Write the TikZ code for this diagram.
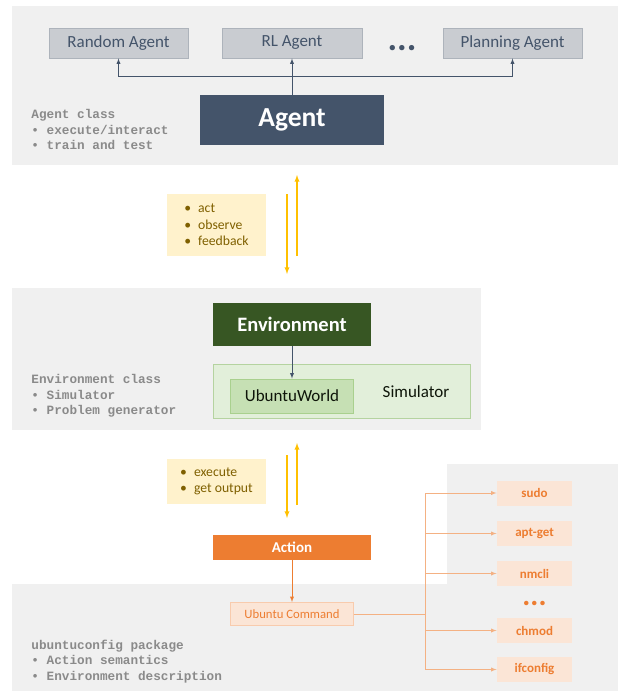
\documentclass[tikz,border=0pt]{standalone}
\usepackage{fontspec}
\setmainfont{Carlito}
\setmonofont{Liberation Mono}
\usepackage{tikz}
\usetikzlibrary{positioning,arrows,calc}

\definecolor{panelgrey}{HTML}{F0F0F0}
\definecolor{agentblue}{HTML}{44546A}
\definecolor{agentgrey}{HTML}{C9CCD1}
\definecolor{agentline}{HTML}{ADB3BB}
\definecolor{notefill}{HTML}{FFF2CC}
\definecolor{notetext}{HTML}{7F6000}
\definecolor{flowyellow}{HTML}{FFC000}
\definecolor{envgreen}{HTML}{375623}
\definecolor{simfill}{HTML}{E2EFDA}
\definecolor{simline}{HTML}{B5D3A0}
\definecolor{worldfill}{HTML}{C6E0B4}
\definecolor{worldline}{HTML}{A9D08E}
\definecolor{actorange}{HTML}{ED7D31}
\definecolor{cmdfill}{HTML}{FBE5D6}
\definecolor{cmdline}{HTML}{F8CBAD}
\definecolor{fanorange}{HTML}{F4B183}
\definecolor{codegrey}{HTML}{8A8A8A}

\begin{document}
\begin{tikzpicture}[x=1pt, y=-1pt, >=latex, line width=0.9pt]
			\tikzstyle{subagent}=[draw=agentline,fill=agentgrey,text=agentblue,inner sep=0pt,
			minimum height=30,font=\fontsize{17}{20}\selectfont]
			\tikzstyle{mainbox}=[inner sep=0pt,text=white]
			\tikzstyle{note}=[fill=notefill,text=notetext,align=left,inner sep=0pt,
			minimum width=99,font=\fontsize{13.7}{16.5}\selectfont]
			\tikzstyle{classtext}=[anchor=west,inner sep=0pt,align=left,text=codegrey,
			font=\ttfamily\bfseries\fontsize{12.7}{15.5}\selectfont]
			\tikzstyle{cmd}=[fill=cmdfill,text=actorange,inner sep=0pt,minimum width=75,
			minimum height=25,font=\bfseries\fontsize{13}{15}\selectfont]
			\tikzstyle{link}=[->,agentblue]
			\tikzstyle{flow}=[->,flowyellow,line width=1.3pt]
			\tikzstyle{fan}=[->,fanorange]

			\useasboundingbox (0,0) rectangle (618,691);

			% panels
			\fill[panelgrey] (12,6) rectangle (618,165);
			\fill[panelgrey] (12,288) rectangle (481,430);
			\fill[panelgrey] (12,584) -- (447,584) -- (447,464) -- (618,464)
			-- (618,691) -- (12,691) -- cycle;

			% agents
			\begin{scope}
				\node[subagent,minimum width=139] (random) at (118.5,43) {Random Agent};
				\node[subagent,minimum width=140] (rl) at (292,43) {RL Agent};
				\node[subagent,minimum width=139] (plan) at (512.5,43) {Planning Agent};
				\node[text=agentblue,inner sep=0pt,font=\bfseries\fontsize{36}{36}\selectfont]
				(moreagents) at (402,48) {...};
				\node[mainbox,fill=agentblue,minimum width=184,minimum height=50,
				font=\bfseries\fontsize{27.5}{30}\selectfont] (agent) at (292,120) {Agent};
				\node[classtext] (agentcls) at (31,129.5)
				{Agent class\\\textbullet{} execute/interact\\\textbullet{} train and test};

				\coordinate (split) at (292,76);
				\draw[link] (agent.north) -- (rl.south);
				\draw[link] (split) -| (random.south);
				\draw[link] (split) -| (plan.south);
			\end{scope}

			% agent <-> environment
			\node[note,minimum height=62] (interact) at (216.5,225)
			{\textbullet\hspace{7pt}act\\\textbullet\hspace{7pt}observe\\\textbullet\hspace{7pt}feedback};
			\coordinate (down1) at (287,194); \coordinate (down2) at (287,274);
			\coordinate (up1) at (297,256); \coordinate (up2) at (297,175);
			\draw[flow] (down1) -- (down2);
			\draw[flow] (up1) -- (up2);

			% environment
			\begin{scope}
				\node[mainbox,fill=envgreen,minimum width=158,minimum height=43,
				font=\bfseries\fontsize{20.5}{24}\selectfont] (env) at (292,324.5) {Environment};
				\node[draw=simline,fill=simfill,minimum width=257,minimum height=54,
				inner sep=0pt] (sim) at (341.5,391) {};
				\node[draw=worldline,fill=worldfill,minimum width=123,minimum height=34,
				inner sep=0pt,text=black!75!envgreen,font=\fontsize{17}{20}\selectfont]
				(world) at (292,396) {UbuntuWorld};
				\node[text=black!75!envgreen,inner sep=0pt,font=\fontsize{17}{20}\selectfont]
				(simlabel) at (416,392) {Simulator};
				\node[classtext] (envcls) at (31,396)
				{Environment class\\\textbullet{} Simulator\\\textbullet{} Problem generator};

				\draw[link] (env.south) -- (world.north);
			\end{scope}

			% environment <-> action
			\node[note,minimum height=45] (execute) at (216.5,481.5)
			{\textbullet\hspace{7pt}execute\\\textbullet\hspace{7pt}get output};
			\coordinate (down3) at (287,455); \coordinate (down4) at (287,518);
			\coordinate (up3) at (297,505); \coordinate (up4) at (297,443);
			\draw[flow] (down3) -- (down4);
			\draw[flow] (up3) -- (up4);

			% action and commands
			\begin{scope}
				\node[mainbox,fill=actorange,minimum width=158,minimum height=25,
				font=\bfseries\fontsize{15}{18}\selectfont] (action) at (292,547.5) {Action};
				\node[draw=cmdline,fill=cmdfill,text=actorange,minimum width=123,
				minimum height=23,inner sep=0pt,font=\fontsize{12.7}{15}\selectfont]
				(ucmd) at (292,614) {Ubuntu Command};
				\node[classtext] (pkg) at (31,661.5)
				{ubuntuconfig package\\\textbullet{} Action semantics\\\textbullet{} Environment description};

				\draw[->,actorange] (action.south) -- (ucmd.north);
				\coordinate (fork) at (425.5,614);
				\draw[fanorange] (ucmd.east) -- (fork);
				\foreach \cmd/\y in {sudo/493,apt-get/533.5,nmcli/573.5,chmod/630.5,ifconfig/669.5}
				{
					\node[cmd] (\cmd) at (534.5,\y) {\cmd};
					\draw[fan] (fork) |- (\cmd.west);
				}
				\node[text=actorange,inner sep=0pt,font=\bfseries\fontsize{30}{30}\selectfont]
				(morecmds) at (534.5,603) {...};
			\end{scope}
		\end{tikzpicture}
\end{document}
